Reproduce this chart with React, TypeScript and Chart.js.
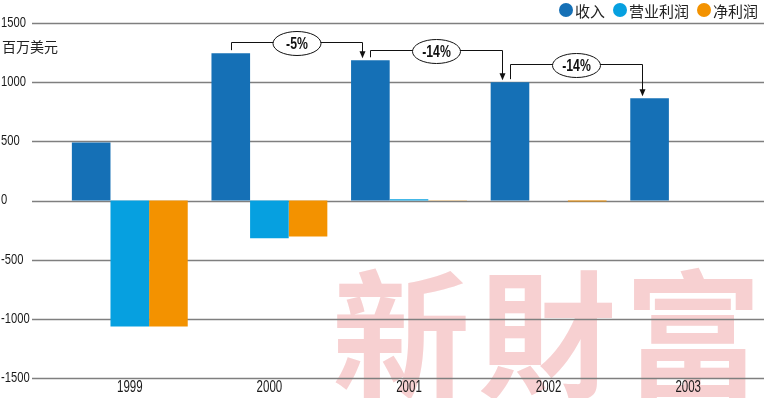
import React, { useEffect, useRef } from "react";
import { Chart, registerables } from "chart.js";

Chart.register(...registerables);

const categories = ["1999", "2000", "2001", "2002", "2003"];
const revenue = [490, 1245, 1185, 1000, 865];
const opProfit = [-1065, -320, 10, 0, 0];
const netProfit = [-1065, -305, 3, -8, 0];
const seriesNames = ["收入", "营业利润", "净利润"];
const seriesColors = ["#1570B6", "#06A0E0", "#F39200"];
const changeLabels = ["-5%", "-14%", "-14%"];
const unitLabel = "百万美元";
const watermark = "新財富";

const SANS = "'Liberation Sans', 'DejaVu Sans', sans-serif";
const CJK = "'Noto Sans CJK SC', 'Noto Sans', sans-serif";

function condensedText(ctx: any, text: string, x: number, y: number, sx: number, align: "left" | "center" | "right") {
  const w = ctx.measureText(text).width * sx;
  let left = x;
  if (align === "center") left = x - w / 2;
  if (align === "right") left = x - w;
  ctx.save();
  ctx.translate(left, y);
  ctx.scale(sx, 1);
  ctx.textAlign = "left";
  ctx.fillText(text, 0, 0);
  ctx.restore();
}

const decorPlugin = {
  id: "decor",
  beforeDraw(chart: any) {
    const ctx = chart.ctx;
    ctx.save();
    ctx.fillStyle = "#F7D0D1";
    ctx.font = `600 138px 'Noto Sans CJK TC', sans-serif`;
    ctx.textBaseline = "top";
    ctx.textAlign = "left";
    const chars = Array.from(watermark);
    chars.forEach((c, i) => {
      ctx.fillText(c, 332 + i * 146, 266);
    });
    ctx.restore();
  },
  beforeDatasetsDraw(chart: any) {
    const ctx = chart.ctx;
    const y = chart.scales.y;
    ctx.save();
    ctx.strokeStyle = "#7f7f7f";
    ctx.lineWidth = 1.5;
    y.ticks.forEach((t: any) => {
      const py = Math.round(y.getPixelForValue(t.value)) + 0.5;
      ctx.beginPath();
      ctx.moveTo(32, py);
      ctx.lineTo(764, py);
      ctx.stroke();
    });
    ctx.restore();
  },
  afterDatasetsDraw(chart: any) {
    const ctx = chart.ctx;
    const ys = chart.scales.y;
    const xs = chart.scales.x;
    ctx.save();
    ctx.fillStyle = "#1a1a1a";
    ctx.textBaseline = "middle";
    ctx.font = `14px ${SANS}`;
    ys.ticks.forEach((t: any) => {
      condensedText(ctx, String(t.value), 1, ys.getPixelForValue(t.value), 0.8, "left");
    });
    ctx.font = `16px ${SANS}`;
    categories.forEach((c, i) => {
      condensedText(ctx, c, xs.getPixelForValue(i), 388, 0.72, "center");
    });

    ctx.fillStyle = "#222";
    ctx.font = `14px ${CJK}`;
    ctx.textBaseline = "middle";
    ctx.textAlign = "left";
    ctx.fillText(unitLabel, 2, 47);

    ctx.font = `15px ${CJK}`;
    let x = 758;
    const items = seriesNames.map((n, i) => ({ n, c: seriesColors[i] }));
    for (let i = items.length - 1; i >= 0; i--) {
      const w = ctx.measureText(items[i].n).width;
      const tx = x - w;
      ctx.fillStyle = "#222";
      ctx.fillText(items[i].n, tx, 11);
      const cx = tx - 9;
      ctx.fillStyle = items[i].c;
      ctx.beginPath();
      ctx.arc(cx, 10, 7, 0, Math.PI * 2);
      ctx.fill();
      x = cx - 7 - 8;
    }

    const meta = chart.getDatasetMeta(0);
    const offsets = [11, 10, 18];
    changeLabels.forEach((lab, k) => {
      const from = meta.data[k + 1];
      const to = meta.data[k + 2];
      if (!from || !to) return;
      const sx = Math.round(from.x) + 0.5;
      const level = Math.round(from.y - offsets[k]) + 0.5;
      const ax = Math.round(to.x - 8) + 0.5;
      const tipY = to.y - 2;
      ctx.strokeStyle = "#111";
      ctx.lineWidth = 1;
      ctx.beginPath();
      ctx.moveTo(sx, from.y - 3);
      ctx.lineTo(sx, level);
      ctx.lineTo(ax, level);
      ctx.lineTo(ax, tipY - 6);
      ctx.stroke();
      ctx.fillStyle = "#111";
      ctx.beginPath();
      ctx.moveTo(ax - 3, tipY - 7);
      ctx.lineTo(ax + 3, tipY - 7);
      ctx.lineTo(ax, tipY);
      ctx.closePath();
      ctx.fill();
      const mx = (sx + ax) / 2;
      const my = level + 1;
      ctx.beginPath();
      ctx.ellipse(mx, my, 24, 12, 0, 0, Math.PI * 2);
      ctx.fillStyle = "#fff";
      ctx.fill();
      ctx.stroke();
      ctx.fillStyle = "#111";
      ctx.font = `bold 17px ${SANS}`;
      ctx.textBaseline = "middle";
      condensedText(ctx, lab, mx, my + 1, 0.72, "center");
    });
    ctx.restore();
  },
};

export default function App() {
  const ref = useRef<HTMLCanvasElement | null>(null);
  useEffect(() => {
    if (!ref.current) return;
    const chart = new Chart(ref.current, {
      type: "bar",
      data: {
        labels: categories,
        datasets: [
          { label: seriesNames[0], data: revenue, backgroundColor: seriesColors[0] },
          { label: seriesNames[1], data: opProfit, backgroundColor: seriesColors[1] },
          { label: seriesNames[2], data: netProfit, backgroundColor: seriesColors[2] },
        ],
      },
      options: {
        responsive: false,
        animation: false,
        datasets: { bar: { categoryPercentage: 0.83, barPercentage: 1.0 } },
        layout: { padding: { top: 23, right: 6, left: 0, bottom: 0 } },
        plugins: { legend: { display: false }, tooltip: { enabled: false } },
        scales: {
          x: {
            grid: { display: false, drawTicks: false },
            border: { display: false },
            ticks: { display: false },
            afterFit: (s: any) => {
              s.height = 20;
            },
          },
          y: {
            min: -1500,
            max: 1500,
            grid: { display: false, drawTicks: false },
            border: { display: false },
            ticks: { display: false, stepSize: 500 },
            afterFit: (s: any) => {
              s.width = 60;
            },
          },
        },
      },
      plugins: [decorPlugin],
    });
    return () => chart.destroy();
  }, []);
  return (
    <div style={{ position: "absolute", left: 0, top: 0, width: 764, height: 398, background: "#fff" }}>
      <canvas ref={ref} width={764} height={398} style={{ display: "block" }} />
    </div>
  );
}
